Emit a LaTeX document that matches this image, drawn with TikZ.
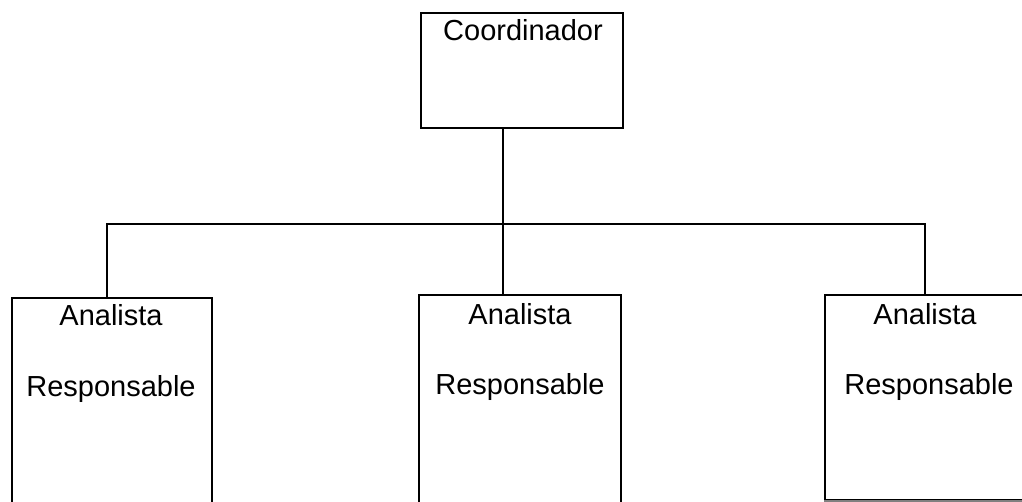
\documentclass[tikz,border=0pt]{standalone}
\usepackage{fontspec}
\setmainfont{Liberation Sans}
\begin{document}
\begin{tikzpicture}[x=1pt,y=-1pt,
  box/.style={draw=black,line width=2pt,rectangle,inner sep=0pt},
  lbl/.style={font=\fontsize{29}{32}\selectfont,inner sep=0pt,anchor=base},
  conn/.style={draw=black,line width=2pt}]
\useasboundingbox[fill=white] (0,0) rectangle (1022,502);
\node[box,minimum width=202,minimum height=115] (coord) at (522,70.5) {};
\node[box,minimum width=200,minimum height=222] (left) at (112,409) {};
\node[box,minimum width=202,minimum height=225] (mid) at (520,407.5) {};
\node[box,minimum width=206,minimum height=205] (right) at (928,397.5) {};
\draw[gray,line width=2pt] (right.south west) -- (right.south east);
\node[lbl] (tc) at (523,41) {Coordinador};
\node[lbl] (la) at (111,326) {Analista};
\node[lbl] (lr) at (111,396) {Responsable};
\node[lbl] (ma) at (520,325) {Analista};
\node[lbl] (mr) at (520,394) {Responsable};
\node[lbl] (ra) at (925,325) {Analista};
\node[lbl] (rr) at (929,394) {Responsable};
\coordinate (busL) at (107,224);
\coordinate (busR) at (925,224);
\draw[conn] (coord.south -| 503,0) -- (503,0 |- mid.north);
\draw[conn] (left.north -| busL) -- (busL) -- (busR) -- (right.north -| busR);
\end{tikzpicture}
\end{document}
